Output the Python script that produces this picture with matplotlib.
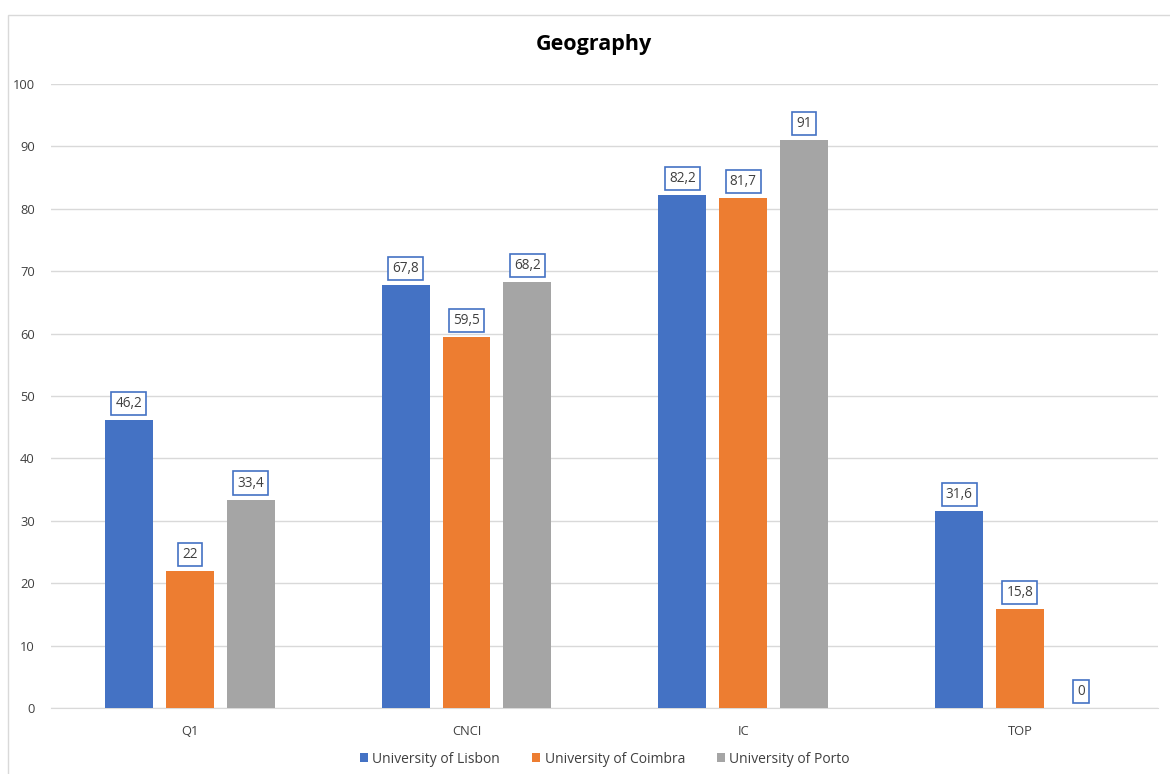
import matplotlib.pyplot as plt
import numpy as np

categories = ['Q1', 'CNCI', 'IC', 'TOP']
lisbon = [46.2, 67.8, 82.2, 31.6]
coimbra = [22, 59.5, 81.7, 15.8]
porto = [33.4, 68.2, 91, 0]
series_names = ['University of Lisbon', 'University of Coimbra', 'University of Porto']
colors = ['#4472C4', '#ED7D31', '#A5A5A5']

plt.rcParams['font.family'] = ['Open Sans', 'DejaVu Sans']

fig = plt.figure(figsize=(11.7, 7.74), dpi=100)
ax = fig.add_axes([0.044, 0.0853, 0.946, 0.8062])

# chart border like the excel frame
fig.patches.append(plt.Rectangle((0.007, -0.01), 1.0, 0.99, transform=fig.transFigure,
                                 fill=False, edgecolor='#D9D9D9', lw=1))

x = np.arange(len(categories))
width = 0.173
offsets = [-0.22, 0, 0.22]

def fmt(v):
    s = ('%g' % v)
    return s.replace('.', ',')

for vals, name, col, off in zip([lisbon, coimbra, porto], series_names, colors, offsets):
    ax.bar(x + off, vals, width, color=col, label=name, zorder=3)
    for xi, v in zip(x + off, vals):
        ax.annotate(fmt(v), xy=(xi, v), xytext=(0, 6.5), textcoords='offset points',
                    ha='center', va='bottom', fontsize=9.8, color='#404040',
                    bbox=dict(boxstyle='square,pad=0.3', fc='white', ec='#4472C4', lw=1.2),
                    zorder=4)

ax.set_xlim(-0.5, len(categories) - 0.5)
ax.set_ylim(0, 100)
ax.set_yticks(np.arange(0, 101, 10))
ax.set_xticks(x)
ax.set_xticklabels(categories)
ax.grid(axis='y', color='#D9D9D9', lw=1, zorder=0)
for s in ['top', 'right', 'left']:
    ax.spines[s].set_visible(False)
ax.spines['bottom'].set_color('#D9D9D9')
ax.tick_params(axis='both', length=0, labelsize=9.3, colors='#404040')
ax.tick_params(axis='y', pad=12)
ax.tick_params(axis='x', pad=12)

fig.text(0.508, 0.943, 'Geography', fontsize=15.5, fontweight='bold', color='black',
         ha='center', va='center')

ax.legend(loc='upper center', bbox_to_anchor=(0.5, -0.05), ncol=3, frameon=False,
          fontsize=10, handlelength=0.6, handleheight=0.6, handletextpad=0.3,
          columnspacing=2.3, labelcolor='#404040')

plt.savefig('out.png', dpi=100, facecolor='white')
